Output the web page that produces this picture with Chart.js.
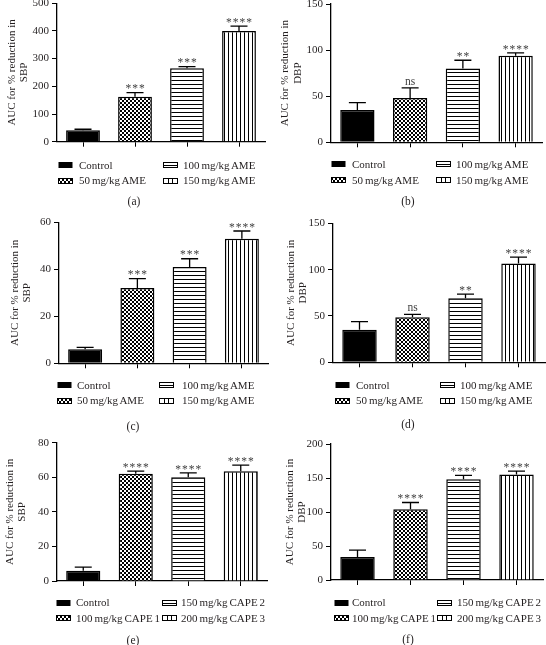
<!DOCTYPE html>
<html><head><meta charset="utf-8">
<script src="https://cdn.jsdelivr.net/npm/chart.js@4.4.1/dist/chart.umd.min.js"></script>
<style>
html,body{margin:0;padding:0;background:#fff;}
#root{position:relative;width:546px;height:645px;overflow:hidden;font-family:'Liberation Serif','Times New Roman',serif;color:#231f20;}
.pc{position:absolute;width:273px;height:215px;}
.lt{position:absolute;font-size:11px;line-height:12px;white-space:nowrap;word-spacing:-0.8px;z-index:2;}
.sw{position:absolute;z-index:1;}
.cap{position:absolute;font-size:11.5px;line-height:12px;transform:translateX(-50%);white-space:nowrap;}
</style></head><body><div id="root"></div>
<script>
// ---- data ----
const ameGroups = ['Control', '50 mg/kg AME', '100 mg/kg AME', '150 mg/kg AME'];
const capeGroups = ['Control', '100 mg/kg CAPE 1', '150 mg/kg CAPE 2', '200 mg/kg CAPE 3'];
const yTitlePrefix = 'AUC for % reduction in';

const aValues = [41, 162, 265, 400];
const aErrors = [4, 15, 6, 17];
const aSig = ['', '***', '***', '****'];

const bValues = [35, 48, 80, 94];
const bErrors = [8, 11, 9, 3];
const bSig = ['', 'ns', '**', '****'];

const cValues = [6, 32, 41, 53];
const cErrors = [0.8, 4, 3.5, 3.3];
const cSig = ['', '***', '***', '****'];

const dValues = [35, 48.5, 69, 106.5];
const dErrors = [9, 3.3, 4.5, 7];
const dSig = ['', 'ns', '**', '****'];

const eValues = [6, 62, 60, 63.5];
const eErrors = [2, 1.5, 2.5, 3.5];
const eSig = ['', '****', '****', '****'];

const fValues = [34, 104, 148, 155];
const fErrors = [10, 10, 6, 5];
const fSig = ['', '****', '****', '****'];

const aTicks = [0, 100, 200, 300, 400, 500];
const bTicks = [0, 50, 100, 150];
const cTicks = [0, 20, 40, 60];
const dTicks = [0, 50, 100, 150];
const eTicks = [0, 20, 40, 60, 80];
const fTicks = [0, 50, 100, 150, 200];

// ---- layout / style ----
const FONT = "'Liberation Serif','Times New Roman',serif";
const panels = [
  {id:'a', col:0, row:0, groups:ameGroups, bp:'SBP', values:aValues, errors:aErrors, sig:aSig, ticks:aTicks,
   axisX:57, top:3.2, zero:141.7, right:265, tpad:6,
   legY:[165,180.7], sx1:58, tx1:79, sx2:163, tx2:183, capX:134, capY:201.7},
  {id:'b', col:1, row:0, groups:ameGroups, bp:'DBP', values:bValues, errors:bErrors, sig:bSig, ticks:bTicks,
   axisX:58, top:4, zero:142.3, right:269, tpad:6.5,
   legY:[164,180], sx1:331, tx1:352, sx2:436, tx2:456, capX:408, capY:201.7},
  {id:'c', col:0, row:1, groups:ameGroups, bp:'SBP', values:cValues, errors:cErrors, sig:cSig, ticks:cTicks,
   axisX:59, top:7.3, zero:148.3, right:268, tpad:9,
   legY:[385,400.7], sx1:57, tx1:77, sx2:159, tx2:182, capX:133, capY:426.7},
  {id:'d', col:1, row:1, groups:ameGroups, bp:'DBP', values:dValues, errors:dErrors, sig:dSig, ticks:dTicks,
   axisX:60, top:8.3, zero:147.3, right:272, tpad:12,
   legY:[385,400.7], sx1:335, tx1:356, sx2:440, tx2:460, capX:408, capY:424},
  {id:'e', col:0, row:2, groups:capeGroups, bp:'SBP', values:eValues, errors:eErrors, sig:eSig, ticks:eTicks,
   axisX:57, top:12.7, zero:151, right:267, tpad:4,
   legY:[602.7,618.3], sx1:56, tx1:76, sx2:162, tx2:181, capX:133, capY:640},
  {id:'f', col:1, row:2, groups:capeGroups, bp:'DBP', values:fValues, errors:fErrors, sig:fSig, ticks:fTicks,
   axisX:58, top:14, zero:150, right:270, tpad:11,
   legY:[602.7,618], sx1:334, tx1:352, sx2:437, tx2:457, capX:408, capY:639}
];

function makeTile(kind){
  const c = document.createElement('canvas'); c.width = 4; c.height = 4;
  const g = c.getContext('2d');
  if (kind === 'checker'){ g.fillStyle='#000'; g.fillRect(0,0,4,4); g.fillStyle='#fff'; g.fillRect(0,0,2,2); g.fillRect(2,2,2,2); }
  else if (kind === 'hline'){ g.fillStyle='#fff'; g.fillRect(0,0,4,4); g.fillStyle='#000'; g.fillRect(0,0,4,1); }
  else if (kind === 'vline'){ g.fillStyle='#fff'; g.fillRect(0,0,4,4); g.fillStyle='#000'; g.fillRect(0,0,1,4); }
  return c;
}
const kinds = ['solid','checker','hline','vline'];

const root = document.getElementById('root');

function drawSwatch(kind){
  const c = document.createElement('canvas'); c.width = 15; c.height = 8;
  const g = c.getContext('2d');
  if (kind === 'solid'){ g.fillStyle='#000'; g.fillRect(0.5,1,14,6); }
  else if (kind === 'checker'){
    g.fillStyle = g.createPattern(makeTile('checker'),'repeat'); g.fillRect(0.5,1,14,6);
    g.strokeStyle='#000'; g.lineWidth=1; g.strokeRect(0.5,1.5,14,5);
  } else if (kind === 'hline'){
    g.fillStyle='#fff'; g.fillRect(0.5,1,14,6);
    g.strokeStyle='#000'; g.lineWidth=1; g.strokeRect(0.5,1.5,14,5);
    g.beginPath(); g.moveTo(0.5,4.5); g.lineTo(14.5,4.5); g.stroke();
  } else {
    g.fillStyle='#fff'; g.fillRect(0.5,1,14,6);
    g.strokeStyle='#000'; g.lineWidth=1; g.strokeRect(0.5,1.5,14,5);
    g.beginPath(); g.moveTo(5.5,1.5); g.lineTo(5.5,6.5); g.moveTo(9.5,1.5); g.lineTo(9.5,6.5); g.stroke();
  }
  return c;
}

function addLegendItem(kind, text, sx, tx, y){
  const sw = drawSwatch(kind); sw.className='sw';
  sw.style.left = sx+'px'; sw.style.top = (y-4)+'px';
  root.appendChild(sw);
  const t = document.createElement('div'); t.className='lt';
  t.textContent = text; t.style.left = tx+'px'; t.style.top = (y-6.5)+'px';
  root.appendChild(t);
}

panels.forEach(p => {
  const wrap = document.createElement('div'); wrap.className='pc';
  wrap.style.left = (p.col*273)+'px'; wrap.style.top = (p.row*215)+'px';
  const cv = document.createElement('canvas'); cv.width = 273; cv.height = 215;
  cv.style.width='273px'; cv.style.height='215px';
  wrap.appendChild(cv); root.appendChild(wrap);
  const ctx = cv.getContext('2d');
  const fills = kinds.map(k => k === 'solid' ? '#000' : ctx.createPattern(makeTile(k),'repeat'));
  const tickMax = p.ticks[p.ticks.length-1];
  const step = p.ticks[1] - p.ticks[0];

  const errPlugin = {
    id: 'errbars_'+p.id,
    afterDatasetsDraw(chart){
      const g = chart.ctx; const meta = chart.getDatasetMeta(0); const ys = chart.scales.y;
      meta.data.forEach((bar, i) => {
        const x = bar.x;
        const yTop = ys.getPixelForValue(p.values[i]);
        const yCap = ys.getPixelForValue(p.values[i] + p.errors[i]);
        g.save();
        g.strokeStyle = '#000'; g.lineWidth = 1.3;
        g.beginPath(); g.moveTo(x, yTop); g.lineTo(x, yCap);
        g.moveTo(x-8.5, yCap); g.lineTo(x+8.5, yCap); g.stroke();
        const s = p.sig[i];
        if (s){
          g.fillStyle = '#3f3f3f'; g.textAlign = 'center'; g.textBaseline = 'alphabetic';
          if (s === 'ns'){ g.font = '11.5px ' + FONT; g.fillText(s, x, yCap - 3.3); }
          else { g.font = '11.5px ' + FONT; try{ g.letterSpacing = '1px'; }catch(e){}
                 g.fillText(s, x + 0.5, yCap - 0.3); }
        }
        g.restore();
      });
    }
  };

  new Chart(cv, {
    type: 'bar',
    data: {
      labels: p.groups,
      datasets: [{
        data: p.values,
        backgroundColor: fills,
        borderColor: '#000',
        borderWidth: 1.5,
        barPercentage: 0.65,
        categoryPercentage: 1.0
      }]
    },
    options: {
      responsive: false,
      animation: false,
      devicePixelRatio: 1,
      layout: { padding: { left: 0, top: p.top, right: 273 - p.right, bottom: 215 - p.zero - 6 } },
      plugins: { legend: { display: false }, tooltip: { enabled: false } },
      scales: {
        x: {
          type: 'category', offset: true,
          grid: { display: true, drawOnChartArea: false, drawTicks: true, tickLength: 5, offset: false, color: '#000', lineWidth: 1 },
          border: { display: true, color: '#000', width: 1.3 },
          ticks: { display: false },
          afterFit(s){ s.height = 6; s.paddingLeft = 0; s.paddingRight = 0; s.paddingTop = 0; s.paddingBottom = 0; }
        },
        y: {
          min: 0, max: tickMax,
          ticks: { stepSize: step, padding: 3, color: '#231f20', font: { family: FONT, size: 11 } },
          grid: { drawOnChartArea: false, drawTicks: true, tickLength: 5, color: '#000', lineWidth: 1 },
          border: { display: true, color: '#000', width: 1.3 },
          title: { display: true, text: [yTitlePrefix, p.bp], color: '#231f20',
                   font: { family: FONT, size: 11, lineHeight: 1.1 }, padding: { top: p.tpad, bottom: 0 } },
          afterFit(s){ s.width = p.axisX; s.paddingTop = 0; s.paddingBottom = 0; s.paddingLeft = 0; s.paddingRight = 0; }
        }
      }
    },
    plugins: [errPlugin]
  });

  // legend: row1: groups[0], groups[2]; row2: groups[1], groups[3]
  addLegendItem(kinds[0], p.groups[0], p.sx1, p.tx1, p.legY[0]);
  addLegendItem(kinds[2], p.groups[2], p.sx2, p.tx2, p.legY[0]);
  addLegendItem(kinds[1], p.groups[1], p.sx1, p.tx1, p.legY[1]);
  addLegendItem(kinds[3], p.groups[3], p.sx2, p.tx2, p.legY[1]);

  const cap = document.createElement('div'); cap.className='cap';
  cap.textContent = '(' + p.id + ')';
  cap.style.left = p.capX + 'px'; cap.style.top = (p.capY - 6.5) + 'px';
  root.appendChild(cap);
});
</script>
</body></html>
